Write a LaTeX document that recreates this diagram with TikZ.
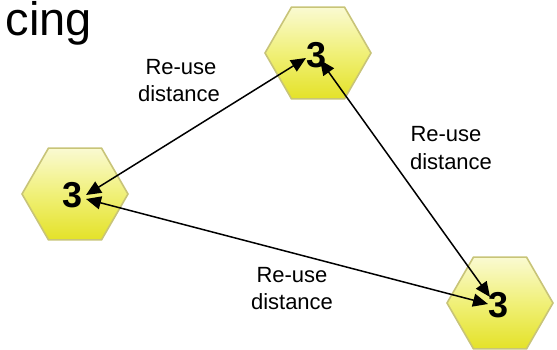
\documentclass[tikz,border=0pt]{standalone}
\usepackage{fontspec}
\setmainfont{Liberation Sans}
\usetikzlibrary{shapes.geometric,arrows.meta,calc}
\definecolor{hextop}{RGB}{250,250,210}
\definecolor{hexmid}{RGB}{240,240,120}
\definecolor{hexbot}{RGB}{228,226,40}
\definecolor{hexedge}{RGB}{200,196,120}
\tikzset{
  cellhex/.style={regular polygon, regular polygon sides=6, minimum size=106pt,
    inner sep=0pt, top color=hextop, bottom color=hexbot, middle color=hexmid,
    draw=hexedge, line width=1.6pt},
  cellnum/.style={font=\fontsize{36}{36}\selectfont\bfseries, inner sep=0pt},
  lbl/.style={font=\fontsize{22}{22}\selectfont, anchor=base, inner sep=0pt},
  reuse/.style={line width=1.5pt, {Triangle[length=15pt,width=13pt]}-{Triangle[length=15pt,width=13pt]}}
}
\begin{document}
\begin{tikzpicture}[x=1pt,y=-1pt]
\useasboundingbox (0,0) rectangle (557,350);
\node[font=\fontsize{47}{47}\selectfont, anchor=base east, inner sep=0pt] (title) at (92,36) {cing};
% hexagons
\node[cellhex] (htop) at (318,53) {};
\node[cellhex] (hleft) at (75,194) {};
\node[cellhex] (hbot) at (500,303) {};
\node[cellnum] (ntop) at (317,55) {3};
\node[cellnum] (nleft) at (73,195) {3};
\node[cellnum] (nbot) at (499,305) {3};
% arrow ends
\coordinate (a1t) at ($(ntop)+(-11,3)$);
\coordinate (a1l) at ($(nleft)+(13,0)$);
\coordinate (a2t) at ($(ntop)+(3,5)$);
\coordinate (a2b) at ($(nbot)+(-9,-8)$);
\coordinate (a3l) at ($(nleft)+(13,4)$);
\coordinate (a3b) at ($(nbot)+(-11,-1)$);
\draw[reuse] (a1t) -- (a1l);
\draw[reuse] (a2t) -- (a2b);
\draw[reuse] (a3l) -- (a3b);
% labels
\node[lbl] (l1a) at (181,75) {Re-use};
\node[lbl] (l1b) at (179,102) {distance};
\node[lbl] (l2a) at (446,142) {Re-use};
\node[lbl] (l2b) at (451,170) {distance};
\node[lbl] (l3a) at (292,282) {Re-use};
\node[lbl] (l3b) at (292,309) {distance};
\end{tikzpicture}
\end{document}
